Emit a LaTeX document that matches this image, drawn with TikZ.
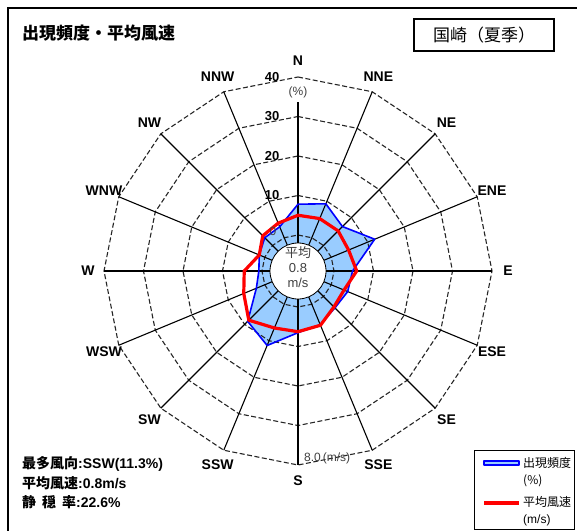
\documentclass[tikz,border=0pt]{standalone}
\usepackage{fontspec}
\setmainfont{Liberation Sans}
\newfontfamily\jpfont{Noto Sans CJK JP}
\definecolor{freqblue}{RGB}{153,204,255}
% percent and wind speed to radius (pt)
\newcommand\pctr[1]{36+3.95*(#1)}
\newcommand\spdr[1]{36+19.75*(#1)}
\def\freqdata{7.8,9.3,6.8,11.9,4.7,4.5,4.1,5.6,6.5,11.3,8.9,2.3,0.8,1.5,2.8,3.0}
\def\speeddata{1.0,1.05,1.05,0.95,1.15,0.7,0.75,1.15,1.25,1.3,1.7,1.15,0.9,0.3,0.7,0.8}
\tikzset{
  every node/.style={inner sep=0pt},
  ringline/.style={draw=black!85, line width=1.1pt, dash pattern=on 5pt off 2.5pt},
  spoke/.style={black, line width=1.1pt},
  mainspoke/.style={black, line width=2pt},
  freqarea/.style={fill=freqblue},
  freqedge/.style={draw=blue, line width=1.6pt, line join=round},
  speedline/.style={draw=red, line width=3.2pt, line join=round},
  dirlabel/.style={font=\fontsize{14}{14}\selectfont\bfseries},
  scalelabel/.style={font=\fontsize{13}{13}\selectfont\bfseries},
  smalltext/.style={font=\fontsize{12}{12}\selectfont, text=black!75},
  centertext/.style={font=\fontsize{13}{13}\selectfont, text=black!75},
  statline/.style={anchor=west, font=\fontsize{14}{14}\selectfont\bfseries},
  legendtext/.style={anchor=west, font=\fontsize{12}{12}\selectfont}
}
\begin{document}
\begin{tikzpicture}[x=1pt,y=1pt]
  \useasboundingbox (0,0) rectangle (577,531);
  \draw[line width=1.5pt] (577,523) -- (8,523) -- (8,0);
  \node[anchor=west, font=\jpfont\fontsize{17}{17}\selectfont\bfseries] (title) at (22,498) {出現頻度・平均風速};
  \node[draw, line width=1.3pt, minimum width=140pt, minimum height=32pt,
        font=\jpfont\fontsize{17}{17}\selectfont] (station) at (484,496) {国崎（夏季）};

  \begin{scope}[shift={(298,260)}]
    % frequency area
    \fill[freqarea] (90:{\pctr{7.8}}) \foreach \p [count=\i from 0] in \freqdata {-- ({90-22.5*\i}:{\pctr{\p}})} -- cycle;
    % rings and spokes
    \foreach \r in {0,10,20,30,40}
      \draw[ringline] (90:{\pctr{\r}}) \foreach \k in {1,...,15} {-- ({90-22.5*\k}:{\pctr{\r}})} -- cycle;
    \foreach \k in {1,2,3,5,6,7,9,10,11,13,14,15}
      \draw[spoke] ({90-22.5*\k}:28) -- ({90-22.5*\k}:194);
    \foreach \a/\len in {90/169,0/194,-90/194,180/194}
      \draw[mainspoke] (\a:28) -- (\a:\len);
    % frequency edge and wind speed
    \draw[freqedge] (90:{\pctr{7.8}}) \foreach \p [count=\i from 0] in \freqdata {-- ({90-22.5*\i}:{\pctr{\p}})} -- cycle;
    \draw[speedline] (90:{\spdr{1.0}}) \foreach \v [count=\i from 0] in \speeddata {-- ({90-22.5*\i}:{\spdr{\v}})} -- cycle;
    % calm circle
    \draw[fill=white, line width=0.8pt] (0,0) circle (28pt);
    \node[centertext] (avgname) at (0,18) {\jpfont 平均};
    \node[centertext] (avgval) at (0,3) {0.8};
    \node[centertext] (avgunit) at (0,-12) {m/s};
    % scale labels
    \foreach \r in {10,20,30,40}
      \node[scalelabel] (pct\r) at (-26,{\pctr{\r}}) {\r};
    \node[smalltext] (pct0) at (-25,40) {0};
    \node[smalltext] (pctunit) at (0,179) {(\%)};
    \node[smalltext, anchor=west] (spdunit) at (6,-187) {8.0\,(m/s)};
    % direction labels
    \foreach \d [count=\i from 0] in {N,NNE,NE,ENE,E,ESE,SE,SSE,S,SSW,SW,WSW,W,WNW,NW,NNW}
      \node[dirlabel] (dir\d) at ({90-22.5*\i}:210) {\d};
  \end{scope}

  % summary
  \node[statline] (mostdir) at (22,67) {{\jpfont 最多風向}:SSW(11.3\%)};
  \node[statline] (meanspd) at (22,48) {{\jpfont 平均風速}:0.8m/s};
  \node[statline] (calm) at (22,29) {{\jpfont 静\hspace{6pt}穏\hspace{6pt}率}:22.6\%};

  % legend
  \draw[line width=1pt] (474,2) rectangle (574,81);
  \draw[freqedge, fill=freqblue] (484,66) rectangle (519,70);
  \node[legendtext] (legfreq) at (523,68) {\jpfont 出現頻度};
  \node[legendtext] (legpct) at (523,50) {\jpfont (\%)};
  \draw[speedline] (484,28) -- (519,28);
  \node[legendtext] (legspd) at (523,29) {\jpfont 平均風速};
  \node[legendtext] (legms) at (523,11) {(m/s)};
\end{tikzpicture}
\end{document}
